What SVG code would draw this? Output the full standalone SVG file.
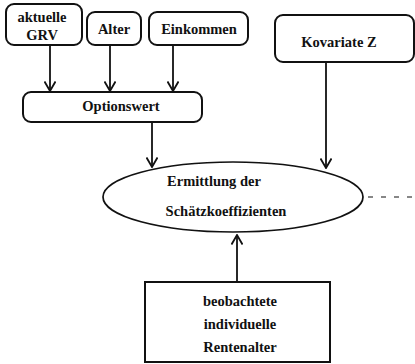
<svg xmlns="http://www.w3.org/2000/svg" width="415" height="364" viewBox="0 0 415 364">
  <defs>
    <marker id="arrow" viewBox="0 0 12 12" refX="11" refY="6" markerWidth="12" markerHeight="12" markerUnits="userSpaceOnUse" orient="auto">
      <path d="M1.5,0.5 L11,6 L1.5,11.5" fill="none" stroke="#111" stroke-width="1.8"/>
    </marker>
  </defs>
  <style>
    .box { fill: #fff; stroke: #111; stroke-width: 2; }
    .oval { fill: #fff; stroke: #111; stroke-width: 1.7; }
    .lbl { font-family: 'Liberation Serif', 'Times New Roman', serif; font-size: 14.5px; font-weight: bold; fill: #111; text-anchor: middle; }
    .edge { fill: none; stroke: #111; stroke-width: 1.8; }
    .dash { fill: none; stroke: #111; stroke-width: 1.2; stroke-dasharray: 5 8; }
  </style>
  <rect width="415" height="364" fill="#fff"/>

  <g id="connectors">
    <line class="edge" x1="50" y1="45" x2="50" y2="91" marker-end="url(#arrow)"/>
    <line class="edge" x1="110" y1="45" x2="110" y2="91" marker-end="url(#arrow)"/>
    <line class="edge" x1="173" y1="45" x2="173" y2="91" marker-end="url(#arrow)"/>
    <line class="edge" x1="152" y1="122" x2="152" y2="167" marker-end="url(#arrow)"/>
    <line class="edge" x1="326" y1="62" x2="326" y2="168" marker-end="url(#arrow)"/>
    <line class="edge" x1="237" y1="282" x2="237" y2="235" marker-end="url(#arrow)"/>
    <line class="dash" x1="368" y1="197" x2="415" y2="197"/>
  </g>

  <g id="node-grv">
    <rect class="box" x="6" y="4" width="76" height="41" rx="8"/>
    <text class="lbl" x="42" y="22">aktuelle</text>
    <text class="lbl" x="42" y="40">GRV</text>
  </g>

  <g id="node-alter">
    <rect class="box" x="87" y="12" width="54" height="33" rx="8"/>
    <text class="lbl" x="114" y="34">Alter</text>
  </g>

  <g id="node-einkommen">
    <rect class="box" x="149" y="12" width="99" height="33" rx="8"/>
    <text class="lbl" x="199" y="34">Einkommen</text>
  </g>

  <g id="node-kovariate">
    <rect class="box" x="275" y="15" width="139" height="47" rx="8"/>
    <text class="lbl" x="339" y="47">Kovariate Z</text>
  </g>

  <g id="node-optionswert">
    <rect class="box" x="23" y="92" width="179" height="30" rx="8"/>
    <text class="lbl" x="121" y="111">Optionswert</text>
  </g>

  <g id="node-ermittlung">
    <ellipse class="oval" cx="233" cy="197" rx="130" ry="35"/>
    <text class="lbl" x="214" y="186">Ermittlung der</text>
    <text class="lbl" x="226" y="216">Schätzkoeffizienten</text>
  </g>

  <g id="node-rentenalter">
    <rect class="box" x="145" y="282" width="185" height="80"/>
    <text class="lbl" x="240" y="306">beobachtete</text>
    <text class="lbl" x="240" y="329">individuelle</text>
    <text class="lbl" x="240" y="352">Rentenalter</text>
  </g>
</svg>
